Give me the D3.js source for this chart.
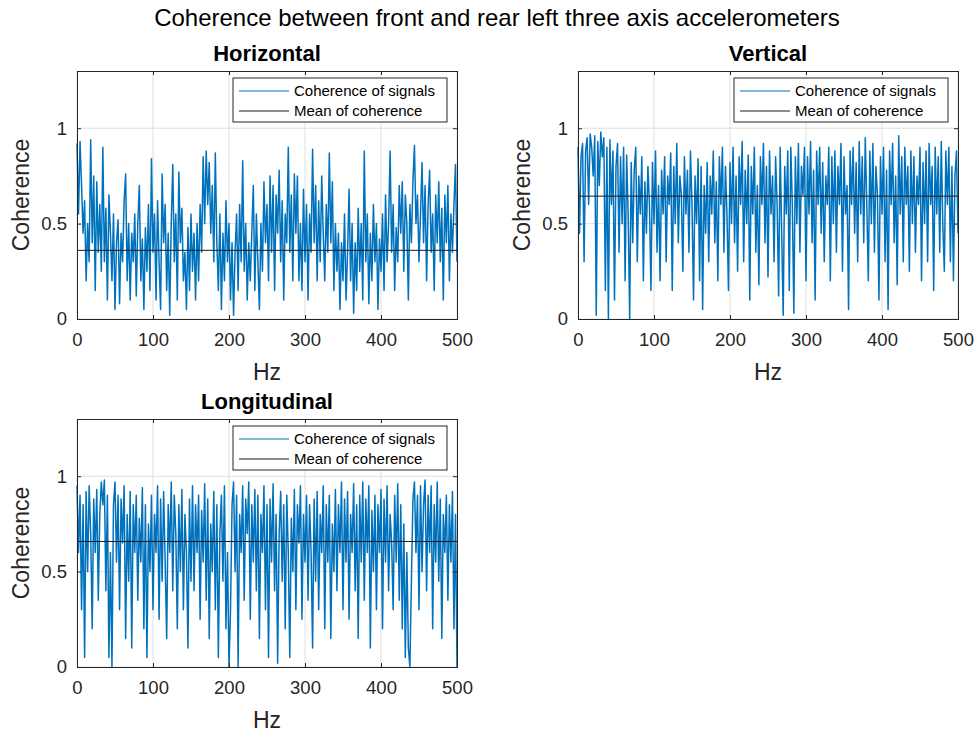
<!DOCTYPE html>
<html>
<head>
<meta charset="utf-8">
<script src="https://cdn.jsdelivr.net/npm/d3@7"></script>
<style>
  html, body { margin: 0; padding: 0; background: #fff; }
  svg { display: block; font-family: "Liberation Sans", Arial, Helvetica, sans-serif; }
</style>
</head>
<body>
<svg id="chart" width="977" height="733"></svg>
<script>
// ---------------- DATA ----------------
const figureTitle = "Coherence between front and rear left three axis accelerometers";
const panelTitles = ["Horizontal", "Vertical", "Longitudinal"];
const legendLabels = ["Coherence of signals", "Mean of coherence"];
const xLabel = "Hz";
const yLabel = "Coherence";
const xTicks = [0, 100, 200, 300, 400, 500];
const yTicks = [0, 0.5, 1];
const xDomain = [0, 500];
const yDomain = [0, 1.3];
const freqStep = 2; // Hz between samples (0..500)

const horizontal = [
0.92,0.55,0.93,0.7,0.45,0.62,0.2,0.5,0.3,0.94,0.4,0.75,0.15,0.72,0.35,0.6,0.25,0.9,0.3,0.58,
0.1,0.65,0.45,0.2,0.55,0.05,0.4,0.52,0.08,0.45,0.3,0.62,0.76,0.2,0.5,0.1,0.45,0.3,0.55,0.12,
0.5,0.7,0.2,0.42,0.05,0.48,0.25,0.6,0.15,0.84,0.35,0.55,0.1,0.62,0.3,0.05,0.76,0.4,0.6,0.15,
0.45,0.02,0.5,0.81,0.3,0.55,0.1,0.77,0.4,0.58,0.2,0.35,0.05,0.48,0.15,0.55,0.25,0.45,0.1,0.5,
0.2,0.6,0.35,0.85,0.5,0.88,0.6,0.82,0.45,0.7,0.3,0.87,0.4,0.15,0.55,0.05,0.45,0.2,0.62,0.3,
0.5,0.1,0.4,0.02,0.35,0.55,0.15,0.6,0.3,0.83,0.25,0.5,0.1,0.4,0.2,0.45,0.7,0.15,0.55,0.3,
0.05,0.5,0.25,0.72,0.4,0.6,0.2,0.75,0.35,0.7,0.15,0.65,0.45,0.78,0.3,0.62,0.1,0.55,0.4,0.9,
0.35,0.65,0.2,0.76,0.45,0.75,0.2,0.5,0.15,0.68,0.3,0.6,0.1,0.55,0.35,0.89,0.4,0.7,0.2,0.62,
0.3,0.75,0.45,0.2,0.6,0.35,0.87,0.4,0.72,0.15,0.5,0.25,0.45,0.05,0.4,0.2,0.55,0.1,0.35,0.68,
0.2,0.5,0.03,0.4,0.15,0.58,0.25,0.5,0.1,0.88,0.3,0.55,0.08,0.45,0.2,0.6,0.3,0.5,0.05,0.42,
0.25,0.55,0.15,0.65,0.3,0.5,0.88,0.35,0.6,0.15,0.48,0.3,0.7,0.45,0.72,0.25,0.65,0.5,0.1,0.6,
0.4,0.72,0.91,0.5,0.65,0.3,0.55,0.82,0.4,0.7,0.2,0.6,0.78,0.35,0.55,0.15,0.65,0.4,0.72,0.3,
0.58,0.1,0.65,0.4,0.7,0.2,0.55,0.35,0.6,0.81,0.3
];
const vertical = [
0.9,0.45,0.85,0.92,0.3,0.88,0.95,0.6,0.97,0.9,0.75,0.96,0.02,0.93,0.7,0.98,0.85,0.95,0.15,0.9,
0.0,0.94,0.6,0.88,0.1,0.8,0.92,0.35,0.85,0.5,0.9,0.2,0.86,0.55,0.0,0.82,0.4,0.78,0.9,0.3,
0.75,0.55,0.85,0.2,0.72,0.45,0.8,0.6,0.15,0.82,0.5,0.88,0.35,0.7,0.2,0.78,0.55,0.85,0.3,0.75,
0.6,0.87,0.15,0.8,0.5,0.92,0.4,0.75,0.65,0.25,0.85,0.55,0.78,0.35,0.88,0.6,0.1,0.75,0.5,0.84,
0.2,0.8,0.05,0.7,0.45,0.82,0.3,0.75,0.55,0.88,0.4,0.72,0.2,0.85,0.6,0.9,0.35,0.8,0.55,0.15,
0.82,0.5,0.9,0.4,0.75,0.25,0.85,0.6,0.93,0.3,0.78,0.5,0.86,0.1,0.8,0.55,0.9,0.35,0.7,0.18,
0.85,0.6,0.92,0.4,0.8,0.22,0.88,0.55,0.75,0.3,0.85,0.6,0.12,0.9,0.45,0.02,0.8,0.55,0.88,0.15,
0.9,0.6,0.03,0.85,0.5,0.92,0.35,0.8,0.65,0.9,0.2,0.85,0.55,0.93,0.4,0.78,0.1,0.88,0.6,0.9,
0.45,0.82,0.3,0.75,0.6,0.9,0.2,0.85,0.5,0.88,0.35,0.8,0.6,0.92,0.25,0.85,0.55,0.7,0.05,0.88,
0.6,0.9,0.45,0.82,0.3,0.93,0.55,0.85,0.4,0.95,0.6,0.2,0.88,0.5,0.92,0.35,0.8,0.65,0.1,0.85,
0.55,0.9,0.3,0.78,0.05,0.88,0.6,0.92,0.4,0.75,0.18,0.96,0.55,0.85,0.3,0.9,0.6,0.8,0.25,0.88,
0.5,0.85,0.35,0.75,0.6,0.9,0.2,0.82,0.5,0.88,0.3,0.92,0.6,0.8,0.15,0.9,0.55,0.85,0.35,0.93,
0.5,0.25,0.88,0.6,0.9,0.3,0.8,0.2,0.75,0.88,0.45
];
const longitudinal = [
0.95,0.6,0.9,0.3,0.85,0.05,0.92,0.5,0.95,0.7,0.2,0.88,0.6,0.93,0.35,0.8,0.97,0.85,0.98,0.4,
0.9,0.05,0.6,0.0,0.85,0.97,0.55,0.9,0.3,0.88,0.65,0.95,0.15,0.8,0.45,0.92,0.1,0.85,0.6,0.9,
0.35,0.78,0.55,0.94,0.2,0.85,0.05,0.75,0.5,0.9,0.3,0.8,0.6,0.95,0.25,0.88,0.45,0.92,0.55,0.15,
0.85,0.6,0.97,0.4,0.9,0.7,0.2,0.85,0.5,0.93,0.3,0.8,0.6,0.1,0.88,0.45,0.95,0.4,0.85,0.6,
0.9,0.25,0.82,0.55,0.96,0.35,0.88,0.15,0.75,0.5,0.92,0.3,0.85,0.05,0.7,0.9,0.45,0.95,0.2,0.6,
0.0,0.3,0.85,0.97,0.5,0.9,0.0,0.8,0.6,0.95,0.35,0.88,0.7,0.97,0.25,0.85,0.55,0.93,0.4,0.9,
0.15,0.8,0.6,0.95,0.3,0.85,0.05,0.88,0.55,0.96,0.4,0.8,0.02,0.7,0.92,0.45,0.85,0.2,0.9,0.6,
0.05,0.78,0.5,0.93,0.3,0.85,0.65,0.95,0.25,0.8,0.55,0.9,0.35,0.85,0.6,0.1,0.88,0.45,0.92,0.3,
0.8,0.6,0.95,0.2,0.85,0.55,0.9,0.15,0.75,0.5,0.93,0.4,0.85,0.6,0.97,0.3,0.88,0.55,0.92,0.25,
0.8,0.6,0.96,0.4,0.85,0.15,0.9,0.55,0.97,0.35,0.88,0.6,0.95,0.1,0.82,0.5,0.9,0.3,0.85,0.6,
0.93,0.2,0.88,0.55,0.95,0.4,0.8,0.65,0.3,0.9,0.55,0.96,0.35,0.85,0.2,0.75,0.05,0.6,0.1,0.0,
0.45,0.88,0.97,0.6,0.9,0.3,0.95,0.5,0.85,0.98,0.4,0.9,0.6,0.95,0.2,0.85,0.55,0.97,0.45,0.88,
0.15,0.8,0.6,0.9,0.35,0.85,0.55,0.92,0.2,0.8,0.0
];
const means = [0.36, 0.644, 0.658];

// ---------------- LAYOUT ----------------
const panels = [
  { title: panelTitles[0], values: horizontal, mean: means[0], left: 77,  top: 71,  width: 380, height: 248 },
  { title: panelTitles[1], values: vertical,   mean: means[1], left: 578, top: 71,  width: 380, height: 248 },
  { title: panelTitles[2], values: longitudinal, mean: means[2], left: 77, top: 419, width: 380, height: 248 }
];

const svg = d3.select("#chart");
const axisColor = "#262626";
const lineColor = "#0072BD";
const gridColor = "#dfdfdf";

svg.append("text")
  .attr("x", 497).attr("y", 26)
  .attr("text-anchor", "middle")
  .attr("font-size", 24)
  .attr("fill", "#000")
  .text(figureTitle);

panels.forEach(p => {
  const g = svg.append("g").attr("transform", `translate(${p.left},${p.top})`);
  const x = d3.scaleLinear().domain(xDomain).range([0, p.width]);
  const y = d3.scaleLinear().domain(yDomain).range([p.height, 0]);

  // grid
  g.append("g").selectAll("line.gx").data(xTicks).join("line")
    .attr("x1", d => x(d)).attr("x2", d => x(d))
    .attr("y1", 0).attr("y2", p.height)
    .attr("stroke", gridColor).attr("stroke-width", 1);
  g.append("g").selectAll("line.gy").data(yTicks).join("line")
    .attr("x1", 0).attr("x2", p.width)
    .attr("y1", d => y(d)).attr("y2", d => y(d))
    .attr("stroke", gridColor).attr("stroke-width", 1);

  // data line
  const line = d3.line().x((d, i) => x(i * freqStep)).y(d => y(d));
  g.append("path")
    .datum(p.values)
    .attr("d", line)
    .attr("fill", "none")
    .attr("stroke", lineColor)
    .attr("stroke-width", 1.5)
    .attr("stroke-linejoin", "round");

  // mean line
  g.append("line")
    .attr("x1", x(xDomain[0])).attr("x2", x(xDomain[1]))
    .attr("y1", y(p.mean)).attr("y2", y(p.mean))
    .attr("stroke", "#1a1a1a").attr("stroke-width", 1);

  // axes (ticks inside)
  const xAxis = d3.axisBottom(x).tickValues(xTicks).tickSize(-4).tickPadding(12).tickFormat(d3.format("d"));
  const yAxis = d3.axisLeft(y).tickValues(yTicks).tickSize(-4).tickPadding(10).tickFormat(d => d === 0.5 ? "0.5" : String(d));
  const xa = g.append("g").attr("transform", `translate(0,${p.height})`).call(xAxis);
  const ya = g.append("g").call(yAxis);
  const xTop = g.append("g").call(d3.axisTop(x).tickValues(xTicks).tickSize(-4).tickFormat(""));
  const yRight = g.append("g").attr("transform", `translate(${p.width},0)`).call(d3.axisRight(y).tickValues(yTicks).tickSize(-4).tickFormat(""));
  [xa, ya, xTop, yRight].forEach(a => {
    a.select(".domain").attr("stroke", axisColor).attr("stroke-width", 1);
    a.selectAll(".tick line").attr("stroke", axisColor);
    a.selectAll(".tick text").attr("fill", axisColor).attr("font-size", 18.5)
      .attr("font-family", "'Liberation Sans', Arial, sans-serif");
  });
  xa.selectAll(".tick text").attr("dy", "0.71em").attr("y", 14);

  // titles / labels
  g.append("text")
    .attr("x", p.width / 2).attr("y", -10)
    .attr("text-anchor", "middle")
    .attr("font-size", 22).attr("font-weight", "bold").attr("fill", "#000")
    .text(p.title);
  g.append("text")
    .attr("x", p.width / 2).attr("y", p.height + 61)
    .attr("text-anchor", "middle")
    .attr("font-size", 23).attr("fill", axisColor)
    .text(xLabel);
  g.append("text")
    .attr("transform", `translate(-48,${p.height / 2}) rotate(-90)`)
    .attr("text-anchor", "middle")
    .attr("font-size", 23).attr("fill", axisColor)
    .text(yLabel);

  // legend
  const lg = g.append("g").attr("transform", `translate(${p.width - 224},7)`);
  lg.append("rect").attr("width", 214).attr("height", 44)
    .attr("fill", "#fff").attr("stroke", axisColor).attr("stroke-width", 1);
  const legendItems = [
    { label: legendLabels[0], color: lineColor },
    { label: legendLabels[1], color: "#1a1a1a" }
  ];
  legendItems.forEach((it, i) => {
    const cy = 13 + i * 20;
    lg.append("line").attr("x1", 6).attr("x2", 56).attr("y1", cy).attr("y2", cy)
      .attr("stroke", it.color).attr("stroke-width", 1);
    lg.append("text").attr("x", 61).attr("y", cy + 5)
      .attr("font-size", 15).attr("fill", "#000")
      .text(it.label);
  });
});
</script>
</body>
</html>
